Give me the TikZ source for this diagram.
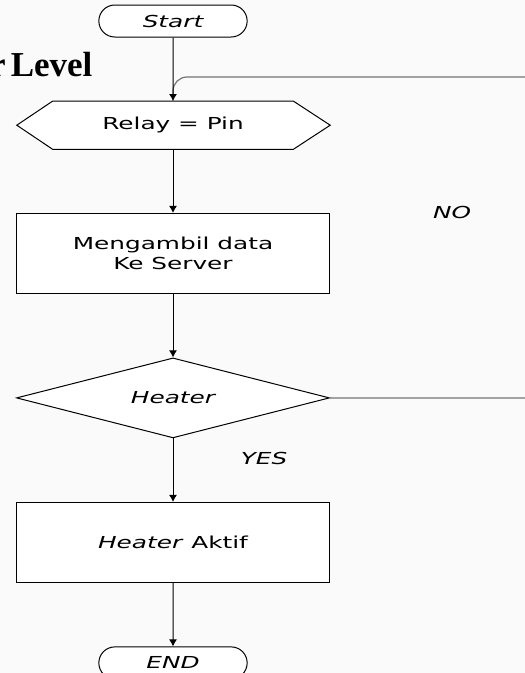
\documentclass[tikz,border=0pt]{standalone}
\usepackage{fontspec}
\newfontfamily\flowfont{DejaVu Sans}[FakeStretch=1.5, ItalicFont={DejaVu Sans Oblique}]
\newfontfamily\titlefont{Liberation Serif}
\usetikzlibrary{shapes, arrows, arrows.meta}
\usetikzlibrary{positioning}
\pgfdeclarelayer{background}
\pgfsetlayers{background,main}

\begin{document}
\begin{tikzpicture}
[
terminal/.style={rounded rectangle, draw, fill=white, line width=1pt, minimum width=155pt, minimum height=32pt, font=\flowfont\fontsize{16.5}{20}\selectfont\itshape},
                    prep/.style    ={rectangle, inner sep=0pt, minimum width=240pt, minimum height=48pt, font=\flowfont\fontsize{16.5}{20}\selectfont},
                    hexagon/.style ={draw, fill=white, line width=1pt},
                    block/.style   ={rectangle, draw, fill=white, line width=1pt, align=center, minimum width=313pt, minimum height=80pt, font=\flowfont\fontsize{16.5}{20}\selectfont},
                    decision/.style={diamond, draw, fill=white, line width=1pt, inner sep=0pt, aspect=3.9, minimum width=313pt, minimum height=80pt, font=\flowfont\fontsize{16.5}{20}\selectfont\itshape},
                    tag/.style     ={font=\flowfont\fontsize{16.5}{20}\selectfont\itshape},
                    heading/.style ={font=\titlefont\fontsize{35}{40}\selectfont\bfseries},
                    line/.style    ={draw, -{Latex[length=7pt, width=8pt]}, line width=1pt},
                    loopline/.style={draw, black!55, line width=1.2pt, rounded corners=14pt},
                    node distance = 63.5pt,
                    auto]

\useasboundingbox (0,0) rectangle (525pt,-673pt);
\begin{pgfonlayer}{background}
\fill[black!2] (0,0) rectangle (525pt,-673pt);
\end{pgfonlayer}

\node[heading, anchor=base east] (heading) at (96pt,-76pt) {r\hspace{0.15em}Level};

\node[terminal] (start) at (173pt,-21pt) {Start};
\node[prep, below=of start] (relay) {Relay = Pin};
\node[block, below=of relay] (fetch) {Mengambil data\\Ke Server};
\node[decision, below=of fetch] (heater) {Heater};
\node[block, below=of heater] (aktif) {\textit{Heater} Aktif};
\node[terminal, below=of aktif] (end) {END};

\begin{pgfonlayer}{background}
\path[hexagon] (relay.north west) -- (relay.north east) -- ([xshift=37pt]relay.east) -- (relay.south east) -- (relay.south west) -- ([xshift=-36pt]relay.west) -- cycle;
\end{pgfonlayer}

\node[tag] (no) at (452pt,-212pt) {NO};

\path[loopline] (heater.east) -- ++(230pt,0) |- ([yshift=24pt]relay.north) -- (relay.north);
\path[line] (start) -- (relay);
\path[line] (relay) -- (fetch);
\path[line] (fetch) -- (heater);
\path[line] (heater) -- (aktif) node[tag, pos=0.32, xshift=64pt] (yes) {YES};
\path[line] (aktif) -- (end);
\end{tikzpicture}
\end{document}
